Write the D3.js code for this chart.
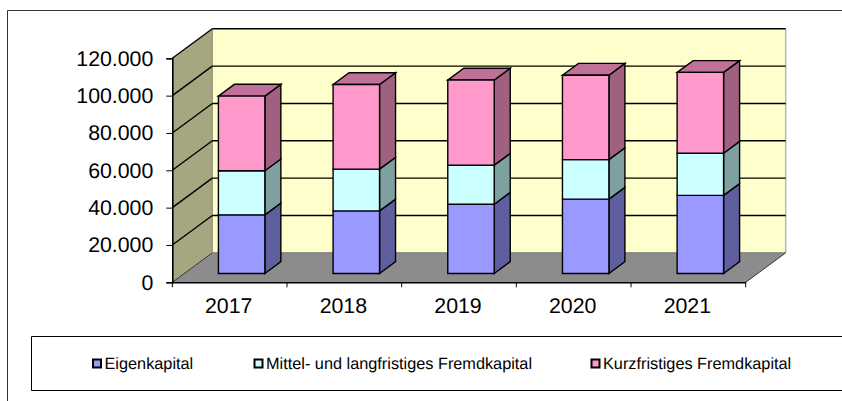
<!DOCTYPE html>
<html><head><meta charset="utf-8">
<script src="https://cdnjs.cloudflare.com/ajax/libs/d3/7.8.5/d3.min.js"></script>
<style>html,body{margin:0;padding:0;background:#fff}svg{display:block}text{font-family:"Liberation Sans",Arial,sans-serif;fill:#000;text-rendering:geometricPrecision}</style>
</head><body><svg id="c" width="842" height="401"></svg>
<script>
const years = ["2017","2018","2019","2020","2021"];
const eigenkapital = [31400,33500,37100,39800,41800];
const mittelLang = [23600,22400,20900,21200,22600];
const kurzfristig = [40000,45300,45600,45200,43300];
const seriesNames = ["Eigenkapital","Mittel- und langfristiges Fremdkapital","Kurzfristiges Fremdkapital"];
const seriesFronts = ["#9999ff","#ccffff","#ff99cc"];
const seriesSides = ["#5f5f9f","#7fa0a0","#a06080"];
const seriesTops = ["#7a7acc","#a3cccc","#c0719a"];
const yTicks = [0,20000,40000,60000,80000,100000,120000];
const fmt = v => v === 0 ? "0" : d3.format(",")(v).replace(/,/g,".");

const svg = d3.select("#c");
const x = d3.scaleBand().domain(years).range([172.3,745.7]);
const y = d3.scaleLinear().domain([0,120000]).range([282.3,58.3]);
const DX = 40, DY = -29.5;
const pt = (px,py,d)=>[px+DX*d,py+DY*d];
const poly = (pts,fill,stroke,sw)=>svg.append("polygon")
  .attr("points",pts.map(p=>p.join(",")).join(" "))
  .attr("fill",fill).attr("stroke",stroke||"none").attr("stroke-width",sw||0).attr("stroke-linejoin","miter");
const line = (a,b,c,w)=>svg.append("line").attr("x1",a[0]).attr("y1",a[1]).attr("x2",b[0]).attr("y2",b[1])
  .attr("stroke",c).attr("stroke-width",w);

// outer frame
svg.append("path").attr("d","M7.5,401V10.5H842").attr("fill","none").attr("stroke","#333").attr("stroke-width",1);

const x0=x.range()[0], x1=x.range()[1], y0=y(0), yT=y(120000);
// walls
poly([pt(x0,y0,1),pt(x1,y0,1),pt(x1,yT,1),pt(x0,yT,1)],"#ffffcc");
poly([pt(x0,y0,0),pt(x0,y0,1),pt(x0,yT,1),pt(x0,yT,0)],"#a6a680");
poly([pt(x0,y0,0),pt(x1,y0,0),pt(x1,y0,1),pt(x0,y0,1)],"#8c8c8c");
// wall edges
line(pt(x0,y0,1),pt(x0,yT,1),"#8a8a70",1);
line(pt(x1,y0,1),pt(x1,yT,1),"#b5b5b5",1.5);
line(pt(x0,y0,1),pt(x1,y0,1),"#777",1);
line(pt(x1,y0,0),pt(x1,y0,1),"#333",1);
// gridlines
yTicks.filter(t=>t>0).forEach(t=>{
  line(pt(x0,y(t),0),pt(x0,y(t),1),"#000",1.4);
  line(pt(x0,y(t),1),pt(x1,y(t),1),"#000",1.4);
});
line(pt(x0,y0,0),pt(x0,y0,1),"#333",1);

// bars
const bw = x.bandwidth()*0.405, d0=0.3, d1=0.7;
years.forEach((yr,i)=>{
  const bx0 = x(yr)+(x.bandwidth()-bw)/2, bx1 = bx0+bw;
  let acc = 0;
  [eigenkapital,mittelLang,kurzfristig].forEach((arr,s)=>{
    const ya=y(acc), yb=y(acc+arr[i]);
    acc+=arr[i];
    const st="#000", w=1.4;
    poly([pt(bx1,ya,d0),pt(bx1,ya,d1),pt(bx1,yb,d1),pt(bx1,yb,d0)],seriesSides[s],st,w);
    if(s===2) poly([pt(bx0,yb,d0),pt(bx1,yb,d0),pt(bx1,yb,d1),pt(bx0,yb,d1)],seriesTops[s],st,w);
    poly([pt(bx0,ya,d0),pt(bx1,ya,d0),pt(bx1,yb,d0),pt(bx0,yb,d0)],seriesFronts[s],st,w);
  });
});

// y axis
const yAxis = svg.append("g").attr("transform",`translate(${x0},0)`)
  .call(d3.axisLeft(y).tickValues(yTicks).tickFormat(fmt).tickSize(6).tickPadding(13));
yAxis.select(".domain").attr("stroke","#000").attr("stroke-width",1.6);
yAxis.selectAll(".tick line").attr("stroke","#000").attr("stroke-width",1);
yAxis.selectAll("text").attr("font-size",21.3).attr("font-family",'"Liberation Sans",Arial,sans-serif');

// x axis
const xAxis = svg.append("g").attr("transform",`translate(0,${y0})`)
  .call(d3.axisBottom(x).tickSize(0).tickPadding(16));
xAxis.select(".domain").attr("stroke","#000").attr("stroke-width",1.6);
xAxis.selectAll("text").attr("font-size",21.3).attr("font-family",'"Liberation Sans",Arial,sans-serif').attr("dx",-1);
years.concat([null]).forEach((yr,i)=>{
  const px = yr? x(yr): x1;
  line([px,y0],[px,y0+5],"#000",1);
});

// legend
svg.append("path").attr("d","M842,336.5H31.5V390.5H842").attr("fill","#fff").attr("stroke","#000").attr("stroke-width",1);
const legendX=[92,253.5,590.5];
seriesNames.forEach((n,i)=>{
  svg.append("rect").attr("x",legendX[i]+1).attr("y",359.5).attr("width",8).attr("height",8)
    .attr("fill",seriesFronts[i]).attr("stroke","#000").attr("stroke-width",2);
  svg.append("text").attr("x",legendX[i]+12.5).attr("y",369.3).attr("font-size",16.3).text(n);
});
</script></body></html>
